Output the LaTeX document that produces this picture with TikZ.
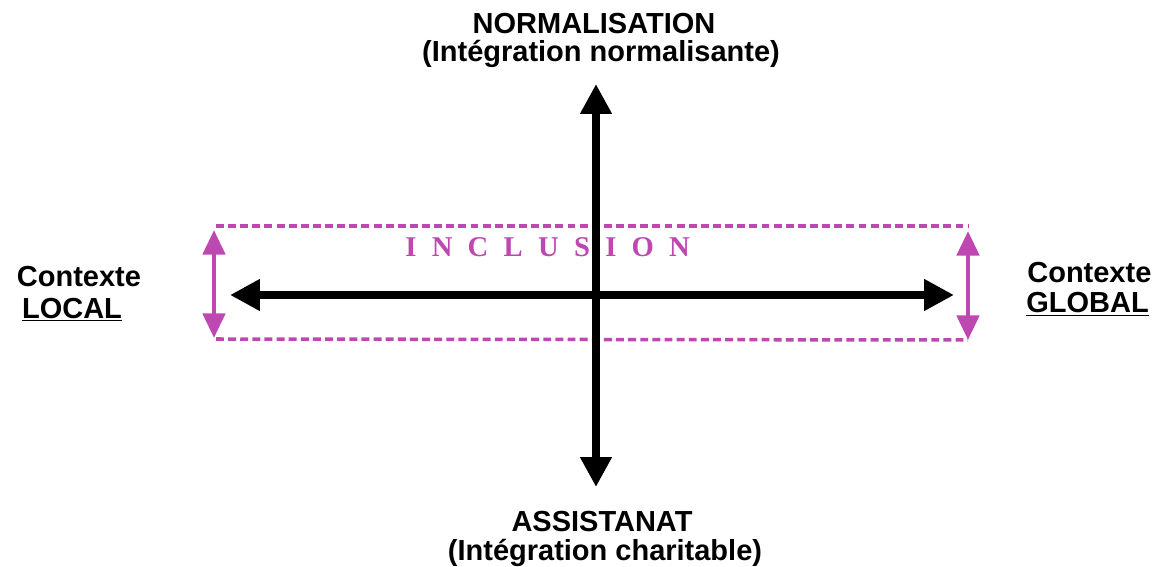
\documentclass[tikz,border=0pt]{standalone}
\usepackage{fontspec}
\setmainfont{Liberation Sans}
\newfontfamily\inclfont{Liberation Serif}
\usetikzlibrary{arrows.meta}
\definecolor{inclmagenta}{RGB}{190,72,178}
\newcommand{\inclgap}{\spaceskip=8.7pt\relax}

\begin{document}
\begin{tikzpicture}[x=0.02cm, y=-0.02cm,
    axistext/.style={font=\fontsize{16.5}{18}\selectfont\bfseries, inner sep=0pt, anchor=base},
    incltext/.style={font=\inclfont\fontsize{16.3}{18}\selectfont\bfseries, text=inclmagenta, inner sep=0pt, anchor=base west},
    axisarrow/.style={line width=5pt, {Triangle[length=17pt,width=17pt]}-{Triangle[length=17pt,width=17pt]}},
    spanarrow/.style={inclmagenta, line width=2.8pt, {Triangle[length=14pt,width=12.5pt]}-{Triangle[length=14pt,width=12.5pt]}},
    inclborder/.style={inclmagenta, line width=2pt, dash pattern=on 4.5pt off 2.4pt}]
        \useasboundingbox (0,0) rectangle (1159,567);

        % Extremites des axes
        \coordinate (N) at (596,84);
        \coordinate (S) at (596,487);
        \coordinate (W) at (230,295);
        \coordinate (E) at (954,295);

        % Zone d'inclusion
        \coordinate (TL) at (216,226);
        \coordinate (TR) at (968,226);
        \coordinate (BL) at (216,339);
        \coordinate (BR) at (968,340);
        \draw[inclborder] (TL) -- (TR);
        \draw[inclborder] (BL) -- (BR);
        \node[incltext] (incl) at (405,257) {\inclgap I N C L U S I O N};

        % Axes
        \draw[axisarrow] (S) -- (N);
        \draw[axisarrow] (W) -- (E);

        % Etendue locale / globale
        \coordinate (LT) at (214,230);
        \coordinate (LB) at (214,338);
        \coordinate (RT) at (968,231);
        \coordinate (RB) at (968,340);
        \draw[spanarrow] (LB) -- (LT);
        \draw[spanarrow] (RB) -- (RT);

        % Textes
        \node[axistext] (norm) at (594,34) {NORMALISATION};
        \node[axistext] (normsub) at (601,62) {(Intégration normalisante)};
        \node[axistext] (assist) at (602,531) {ASSISTANAT};
        \node[axistext] (assistsub) at (605,560) {(Intégration charitable)};
        \node[axistext] (ctxL) at (79,287) {Contexte};
        \node[axistext] (local) at (72,318) {\underline{LOCAL}};
        \node[axistext, anchor=base west] (ctxR) at (1027,283) {Contexte};
        \node[axistext, anchor=base west] (global) at (1026,313) {\underline{GLOBAL}};
\end{tikzpicture}
\end{document}
